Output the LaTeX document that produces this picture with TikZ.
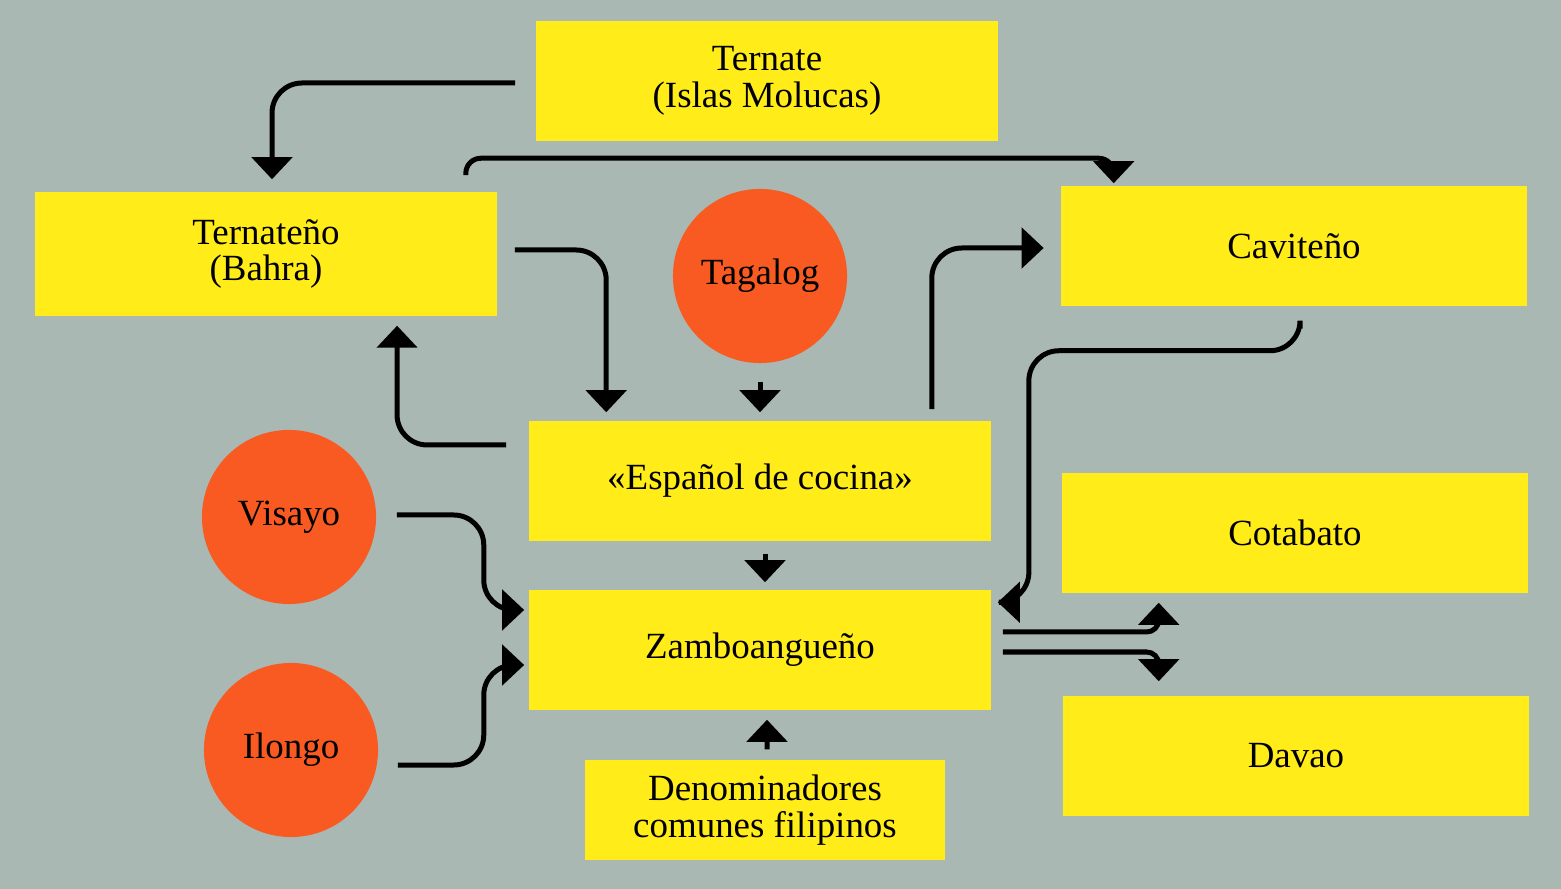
\documentclass[tikz,border=0pt]{standalone}
\usepackage{fontspec}
\setmainfont{Liberation Serif}
\usetikzlibrary{arrows.meta}
\definecolor{fondo}{RGB}{170,184,179}
\definecolor{amarillo}{RGB}{255,236,24}
\definecolor{naranja}{RGB}{249,90,34}
\tikzset{
  caja/.style={rectangle,fill=amarillo,inner sep=0pt,minimum width=4.62cm,
    minimum height=1.2cm,align=center,font=\fontsize{10.5}{10.4}\selectfont},
  lengua/.style={circle,fill=naranja,inner sep=0pt,minimum size=1.74cm,
    font=\fontsize{10.5}{10.4}\selectfont},
  flecha/.style={line width=0.05cm,rounded corners=0.3cm,
    -{Triangle[width=0.4cm,length=0.22cm]}}
}
\begin{document}
\begin{tikzpicture}[x=0.01cm,y=-0.01cm]
     \fill[fondo] (0,0) rectangle (1561,889);
     \useasboundingbox (0,0) rectangle (1561,889);
     \node[caja] (ternate)   at (767,81)  {Ternate\\(Islas Molucas)};
     \node[caja,minimum height=1.24cm] (ternateno) at (266,254) {Ternateño\\(Bahra)};
     \node[caja,minimum width=4.65cm] (cavite)    at (1294,246) {Caviteño};
     \node[caja] (cocina)    at (760,481) {«Español de cocina»};
     \node[caja] (zambo)     at (760,650) {Zamboangueño};
     \node[caja,minimum width=4.65cm] (cotabato)  at (1295,533) {Cotabato};
     \node[caja,minimum width=4.65cm] (davao)     at (1296,756) {Davao};
     \node[caja,minimum width=3.6cm,minimum height=1cm] (denom) at (765,810)
      {Denominadores\\comunes filipinos};
     \node[lengua] (tagalog) at (760,276) {Tagalog};
     \node[lengua] (visayo)  at (289,517) {Visayo};
     \node[lengua] (ilongo)  at (291,750) {Ilongo};
     \draw[flecha] ([xshift=-0.2cm,yshift=-0.02cm]ternate.west)
      -| ([xshift=0.06cm,yshift=0.12cm]ternateno.north);
     \draw[flecha,rounded corners=0.15cm] ([xshift=-0.32cm,yshift=0.16cm]ternateno.north east)
      -- ++(0,-17) -| ([xshift=0.53cm,yshift=0.02cm]cavite.north west);
     \draw[flecha] ([xshift=0.17cm,yshift=0.04cm]ternateno.east)
      -| ([xshift=0.78cm,yshift=0.08cm]cocina.north west);
     \draw[flecha] ([xshift=-0.22cm,yshift=0.36cm]cocina.west)
      -| ([xshift=1.31cm,yshift=-0.09cm]ternateno.south);
     \draw[flecha] ([yshift=-0.18cm]tagalog.south) -- ([yshift=0.08cm]cocina.north);
     \draw[flecha] ([xshift=-0.6cm,yshift=0.11cm]cocina.north east)
      |- ([xshift=-0.17cm,yshift=-0.02cm]cavite.west);
     \draw[flecha] ([xshift=0.06cm,yshift=-0.22cm]cavite.south) -- ++(0,22)
      -| ([xshift=0.37cm,yshift=-0.13cm]zambo.north east)
      [rounded corners=0.1cm] -- ([xshift=0.06cm,yshift=-0.13cm]zambo.north east);
     \draw[flecha] ([xshift=0.05cm,yshift=-0.12cm]cocina.south)
      -- ([xshift=0.05cm,yshift=0.07cm]zambo.north);
     \draw[flecha] ([xshift=0.02cm,yshift=0.1cm]denom.north)
      -- ([xshift=0.07cm,yshift=-0.09cm]zambo.south);
     \draw[flecha] ([xshift=0.2cm,yshift=0.02cm]visayo.east) -- ++(87,0)
      |- ([xshift=-0.04cm,yshift=0.4cm]zambo.west);
     \draw[flecha] ([xshift=0.19cm,yshift=-0.15cm]ilongo.east) -- ++(86,0)
      |- ([xshift=-0.04cm,yshift=-0.15cm]zambo.west);
     \draw[flecha,rounded corners=0.12cm] ([xshift=0.11cm,yshift=0.18cm]zambo.east)
      -| ([xshift=0.97cm,yshift=-0.09cm]cotabato.south west);
     \draw[flecha,rounded corners=0.12cm] ([xshift=0.11cm,yshift=-0.02cm]zambo.east)
      -| ([xshift=0.96cm,yshift=0.14cm]davao.north west);
\end{tikzpicture}
\end{document}
